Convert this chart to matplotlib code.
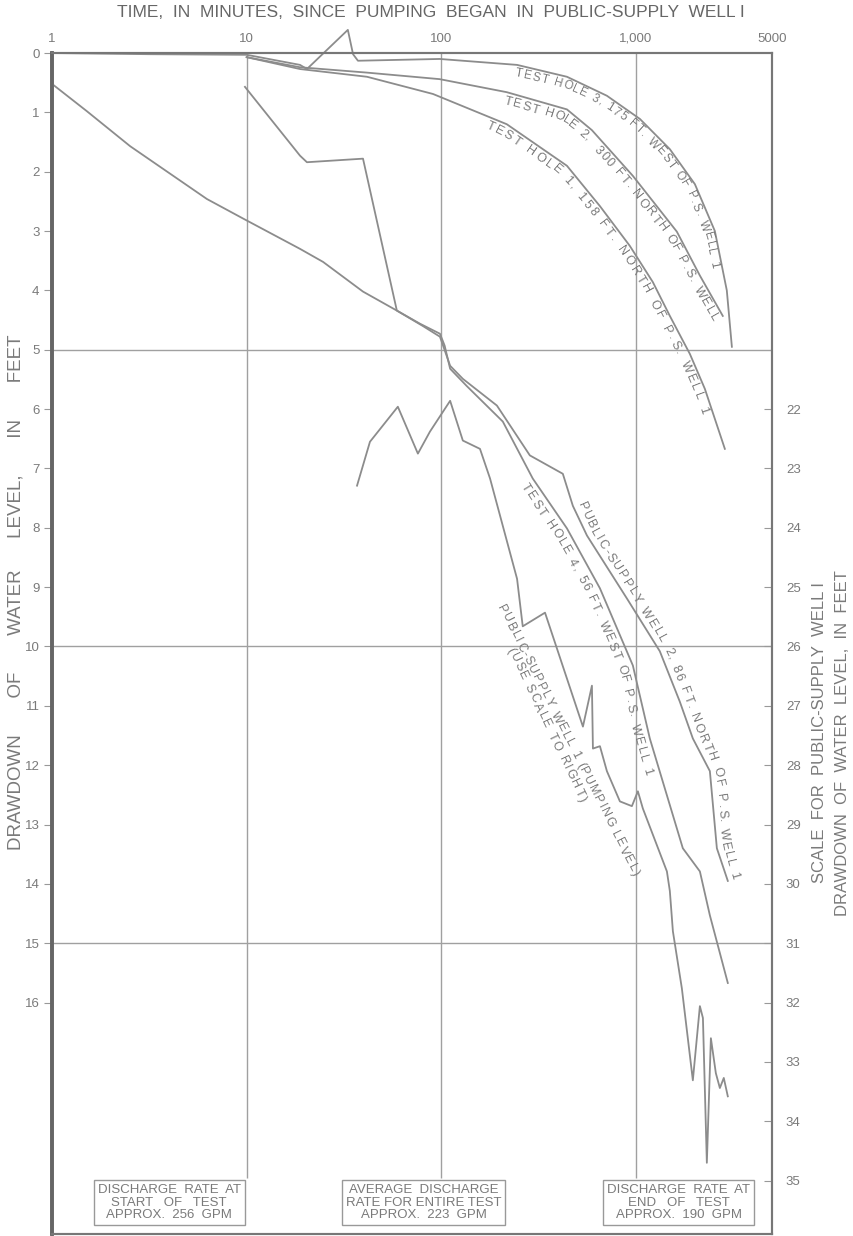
import numpy as np
import matplotlib.pyplot as plt
from matplotlib.font_manager import FontProperties

# time since pumping began (minutes) and drawdown (feet)
th3_t = [1, 3.2, 10, 18.8, 20.4, 33.1, 35.2, 37.3, 98, 245, 442, 709, 1047, 1493, 2008, 2543, 2929, 3110]
th3_dd = [0, 0.02, 0.03, 0.2, 0.27, -0.39, 0.02, 0.13, 0.10, 0.20, 0.40, 0.72, 1.11, 1.62, 2.21, 3.0, 4.0, 4.95]

th2_t = [10, 18.8, 41.5, 98, 217, 442, 594, 964, 1622, 2130, 2793]
th2_dd = [0.07, 0.24, 0.33, 0.44, 0.66, 0.95, 1.30, 2.07, 3.01, 3.75, 4.43]

th1_t = [10, 18.8, 41.5, 90.6, 217, 442, 653, 930, 1221, 1493, 1892, 2260, 2862]
th1_dd = [0.07, 0.27, 0.40, 0.69, 1.20, 1.90, 2.58, 3.25, 3.86, 4.43, 5.07, 5.66, 6.67]

psw2_t = [1, 1.51, 2.52, 6.25, 9.6, 18.8, 24.7, 39.6, 59.1, 80.4, 98.4, 111, 129, 193, 285,
          421, 474, 560, 898, 1326, 1680, 1960, 2397, 2604, 2964]
psw2_dd = [0.52, 0.98, 1.57, 2.46, 2.79, 3.30, 3.52, 4.02, 4.34, 4.60, 4.78, 5.27, 5.49, 5.94, 6.78,
           7.09, 7.63, 8.13, 9.19, 10.08, 10.93, 11.55, 12.10, 13.40, 13.95]

th4_t = [9.8, 18.8, 20.4, 39.6, 59.1, 77.6, 98.4, 104, 111, 135, 207, 295, 442, 653, 964,
         1178, 1741, 2130, 2397, 2964]
th4_dd = [0.57, 1.73, 1.84, 1.78, 4.34, 4.56, 4.73, 4.93, 5.32, 5.61, 6.21, 7.17, 8.01, 9.02, 10.32,
          11.55, 13.40, 13.79, 14.53, 15.67]

# pumping level of public-supply well 1, on the right-hand scale
psw1_t = [36.9, 43, 59.8, 75.8, 87.4, 111, 129, 158, 178, 245, 262, 341, 534, 594, 601, 653, 709,
          827, 953, 1023, 1085, 1442, 1493, 1548, 1721, 1960, 2130, 2208, 2313, 2426, 2573, 2698,
          2826, 2964]
psw1_dd = [23.29, 22.55, 21.96, 22.75, 22.38, 21.86, 22.53, 22.67, 23.17, 24.86, 25.66, 25.43,
           27.35, 26.66, 27.72, 27.68, 28.10, 28.61, 28.69, 28.44, 28.73, 29.79, 30.12, 30.80,
           31.76, 33.31, 32.06, 32.26, 34.70, 32.60, 33.19, 33.44, 33.27, 33.58]

x_ticks = [1, 10, 100, 1000, 5000]
x_labels = ['1', '10', '100', '1,000', '5000']
left_ticks = list(range(0, 17))
right_ticks = list(range(22, 36))
right_offset = 16
hgrid = [5, 10, 15]
vgrid = [10, 100, 1000]

notes = ['DISCHARGE  RATE  AT\nSTART   OF   TEST\nAPPROX.  256  GPM',
         'AVERAGE  DISCHARGE\nRATE FOR ENTIRE TEST\nAPPROX.  223  GPM',
         'DISCHARGE  RATE  AT\nEND   OF   TEST\nAPPROX.  190  GPM']
note_x = [4.0, 81, 1660]

ink = '#8c8c8c'
txt = '#7a7a7a'
fam = ['Liberation Sans', 'DejaVu Sans']

fig = plt.figure(figsize=(8.54, 12.36), dpi=100)
ax = fig.add_axes([0.0609, 0.0016, 0.8431, 0.9555])
ax.set_xscale('log')
ax.set_xlim(1, 5000)
ax.set_ylim(19.9, 0)

for v in hgrid:
    ax.axhline(v, color='#a0a0a0', lw=1.0, zorder=1)
ax.vlines(vgrid, 0, 18.95, color='#a0a0a0', lw=1.0, zorder=1)

for t, d in [(th3_t, th3_dd), (th2_t, th2_dd), (th1_t, th1_dd), (psw2_t, psw2_dd), (th4_t, th4_dd)]:
    ax.plot(t, d, color=ink, lw=1.3, clip_on=False, zorder=3)

ax.xaxis.tick_top()
ax.set_xticks(x_ticks)
ax.set_xticklabels(x_labels, family=fam)
ax.xaxis.set_minor_locator(plt.NullLocator())
ax.tick_params(axis='x', length=0, pad=6, labelsize=9.5, labelcolor=txt)
ax.set_yticks(left_ticks)
ax.set_yticklabels([str(v) for v in left_ticks], family=fam)
ax.tick_params(axis='y', direction='out', length=6, width=0.8, color='#999', pad=3,
               labelsize=9.5, labelcolor=txt)

ax2 = ax.twinx()
ax2.set_ylim(19.9 + right_offset, right_offset)
ax2.plot(psw1_t, psw1_dd, color=ink, lw=1.3, zorder=3)
ax2.set_yticks(right_ticks)
ax2.set_yticklabels([str(v) for v in right_ticks], family=fam)
ax2.tick_params(axis='y', direction='in', length=6, width=0.8, color='#999', pad=10,
                labelsize=9.5, labelcolor=txt)

for a in (ax, ax2):
    for side in ['top', 'right', 'bottom']:
        a.spines[side].set_color('#777')
        a.spines[side].set_linewidth(1.5)
    a.spines['left'].set_color('#666')
    a.spines['left'].set_linewidth(2.6)

renderer = fig.canvas.get_renderer()
W, H = fig.bbox.width, fig.bbox.height


def text_along(t, d, s, t0, t1, offset, size=9.0, smooth=18):
    """Lay the letters of s along the path (t, d) between t0 and t1, offset below it."""
    pts = ax.transData.transform(np.column_stack([t, d]))
    seg = np.hypot(*np.diff(pts, axis=0).T)
    cum = np.concatenate([[0], np.cumsum(seg)])
    sg = np.linspace(0, cum[-1], 3000)
    xs = np.interp(sg, cum, pts[:, 0])
    ys = np.interp(sg, cum, pts[:, 1])
    x0 = ax.transData.transform((t0, 1))[0]
    x1 = ax.transData.transform((t1, 1))[0]
    s0 = sg[np.argmax(xs >= x0)]
    s1 = sg[np.argmax(xs >= x1)] if (xs >= x1).any() else cum[-1]
    prop = FontProperties(family=fam, size=size)
    ws = []
    for ch in s:
        w = renderer.get_text_width_height_descent(ch if ch != ' ' else 'n', prop, ismath=False)[0]
        ws.append(w * (0.55 if ch == ' ' else 1.0))
    track = (s1 - s0 - sum(ws)) / max(len(s) - 1, 1)
    pos = s0
    for ch, w in zip(s, ws):
        c = pos + w / 2
        pa = np.interp(c - smooth, sg, xs), np.interp(c - smooth, sg, ys)
        pb = np.interp(c + smooth, sg, xs), np.interp(c + smooth, sg, ys)
        ang = np.arctan2(pb[1] - pa[1], pb[0] - pa[0])
        px = np.interp(c, sg, xs) + offset * np.sin(ang)
        py = np.interp(c, sg, ys) - offset * np.cos(ang)
        if ch != ' ':
            fig.text(px / W, py / H, ch, rotation=np.degrees(ang), rotation_mode='anchor',
                     ha='center', va='baseline', fontsize=size, color=txt, family=fam, zorder=4)
        pos += w + track


# labels following the curves
text_along(th3_t, th3_dd, 'TEST HOLE 3, 175 FT. WEST OF P.S. WELL 1', 245, 2762, 11, size=8.5)
text_along(th2_t, th2_dd, 'TEST HOLE 2,  300 FT. NORTH OF P.S. WELL', 217, 2929, 12)
text_along(th1_t, th1_dd, 'TEST HOLE 1, 158 FT. NORTH OF P.S. WELL 1', 178, 2465, 12)
text_along(th4_t, th4_dd, 'TEST HOLE 4, 56 FT. WEST OF P.S. WELL 1', 295, 1326, 15, smooth=30)
text_along(psw2_t, psw2_dd, 'PUBLIC-SUPPLY WELL 2, 86 FT. NORTH OF P.S. WELL 1', 474, 4000, -5,
           smooth=40)

# lettering beside the pumping-level curve (start and end points of each line)
straight = [
    ('PUBLIC-SUPPLY WELL 1 (PUMPING LEVEL)', (200, 9.31), (1000, 13.86)),
    ('(USE SCALE TO RIGHT)', (225, 10.03), (534, 12.61)),
]
for s, p0, p1 in straight:
    text_along([p0[0], p1[0]], [p0[1], p1[1]], s, p0[0], p1[0] * 0.999, 3)

for s, x in zip(notes, note_x):
    ax.text(x, 19.37, s, ha='center', va='center', fontsize=9.5, color=txt, linespacing=1.05,
            family=fam,
            bbox=dict(boxstyle='square,pad=0.3', fc='white', ec='#999', lw=1.0), zorder=5)

fig.text(0.505, 0.9895, 'TIME,  IN  MINUTES,  SINCE  PUMPING  BEGAN  IN  PUBLIC-SUPPLY  WELL I',
         ha='center', va='center', fontsize=12.5, color='#666', family=fam)
fig.text(0.019, 0.521, 'DRAWDOWN       OF       WATER      LEVEL,       IN       FEET', rotation=90,
         ha='center', va='center', fontsize=13.5, color=txt, family=fam)
fig.text(0.960, 0.407, 'SCALE  FOR  PUBLIC-SUPPLY  WELL I', rotation=90,
         ha='center', va='center', fontsize=12, color=txt, family=fam)
fig.text(0.987, 0.399, 'DRAWDOWN  OF  WATER  LEVEL,  IN  FEET', rotation=90,
         ha='center', va='center', fontsize=12, color=txt, family=fam)

fig.savefig('out.png', dpi=100, facecolor='white')
